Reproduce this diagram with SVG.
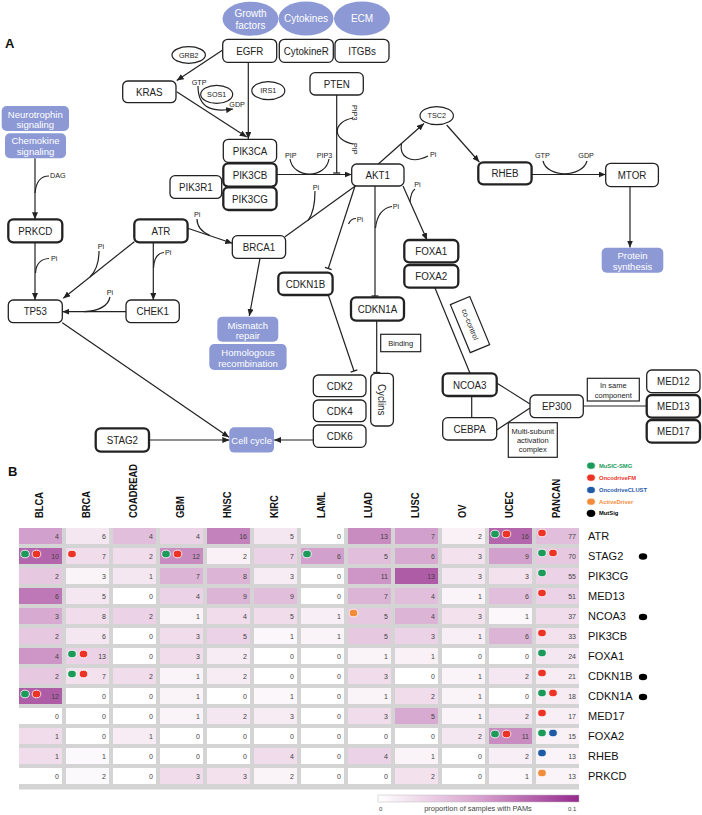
<svg xmlns="http://www.w3.org/2000/svg" width="702" height="815" viewBox="0 0 702 815">
<defs>
<marker id="arr" markerUnits="userSpaceOnUse" viewBox="0 0 7 6" markerWidth="7" markerHeight="6" refX="7" refY="3" orient="auto"><path d="M0,0 L7,3 L0,6 z" fill="#222"/></marker>
<marker id="bar" markerUnits="userSpaceOnUse" viewBox="-2 -5 4 10" markerWidth="4" markerHeight="10" refX="0" refY="0" orient="auto"><path d="M0,-3.5 L0,3.5" stroke="#222" stroke-width="1.3"/></marker>
<linearGradient id="cb" x1="0" y1="0" x2="1" y2="0"><stop offset="0" stop-color="#ffffff"/><stop offset="0.5" stop-color="#d8a3ce"/><stop offset="1" stop-color="#952a8e"/></linearGradient>
</defs>
<style>
text{font-family:"Liberation Sans",Arial,Helvetica,sans-serif}
.nd{fill:#fff;stroke:#222;stroke-width:1.3}
.nt{fill:#fff;stroke:#222;stroke-width:2.3}
.pw{fill:#8c99d5}
.bx{fill:#fff;stroke:#222;stroke-width:1.2}
.lbl{font-size:11.5px;fill:#222;text-anchor:middle}
.wt{font-size:9.5px;fill:#fff;text-anchor:middle}
.we{font-size:10px;fill:#fff;text-anchor:middle}
.sm{font-size:7.2px;fill:#222}
.smc{font-size:7.2px;fill:#222;text-anchor:middle}
.bt{font-size:7.5px;fill:#222;text-anchor:middle}
.ln{fill:none;stroke:#222;stroke-width:1.2}
.ar{marker-end:url(#arr)}
.inh{marker-end:url(#bar)}
.sec{font-size:13px;font-weight:bold;fill:#111}
.hd{font-size:11px;font-weight:bold;fill:#111}
.num{font-size:7px;fill:#444;text-anchor:end}
.rl{font-size:11px;fill:#111}
.lg{font-size:5.8px;font-weight:bold}
.cbt{font-size:6px;fill:#444}
.cbl{font-size:7.4px;fill:#444;text-anchor:middle}
.dg{fill:#1b9a5a;stroke:#fff;stroke-width:0.8}
.dr{fill:#ec3326;stroke:#fff;stroke-width:0.8}
.db{fill:#1f5aa6;stroke:#fff;stroke-width:0.8}
.do{fill:#f28c3a;stroke:#fff;stroke-width:0.8}
.dk{fill:#000}
.k0{fill:#ffffff}.k03{fill:#fcf9fc}.k04{fill:#fbf7fb}.k05{fill:#faf4f8}.k06{fill:#f9f1f6}.k07{fill:#f8eef5}.k08{fill:#f7ecf4}
.k10{fill:#f5e7f1}.k12{fill:#f3e2ee}.k15{fill:#f0dceb}.k20{fill:#ebd2e6}.k25{fill:#e6c8e1}.k30{fill:#e1bedb}.k35{fill:#dcb4d6}
.k40{fill:#d7aad1}.k45{fill:#d2a0cc}.k50{fill:#cd96c6}.k55{fill:#c88cc1}.k60{fill:#c382bc}.k65{fill:#be78b7}.k75{fill:#b466ac}.k80{fill:#af5ca7}
</style>
<rect width="702" height="815" fill="#fff"/>

<text class="sec" x="5" y="48">A</text>
<text class="sec" x="8" y="476">B</text>

<!-- connectors -->
<g id="connectors">
<path class="ln ar" d="M222.7,50 L176.7,80.5"/>
<path class="ln ar" d="M248.3,62.3 L248.3,139"/>
<path class="ln ar" d="M176.7,91.7 L246.7,137"/>
<path class="ln ar" d="M198,86 C198,110 215,112 233,109"/>
<path class="ln ar" d="M276.7,174.5 L351.7,174.5"/>
<path class="ln" d="M290,159 C293,179 326,179 329,159"/>
<path class="ln inh" d="M336.7,95 L336.7,173"/>
<path class="ln" d="M353,118 C332,122 332,140 353,144"/>
<path class="ln ar" d="M378.3,164 L424,123.5"/>
<path class="ln" d="M401.5,143.5 C399,156 410,165 428,156"/>
<path class="ln ar" d="M446.7,125 L479.3,162"/>
<path class="ln ar" d="M531.7,174.5 L605.7,174.5"/>
<path class="ln" d="M543,161 C547,178 582,178 587,161"/>
<path class="ln ar" d="M630,186.7 L630,247.5"/>
<path class="ln ar" d="M35,158.3 L35,219.3"/>
<path class="ln" d="M49,176 C40,176 36,182 35,193"/>
<path class="ln ar" d="M35,242.3 L35,300"/>
<path class="ln" d="M49,258.5 C40,259 36,265 35.5,273"/>
<path class="ln ar" d="M134.3,241.7 L63.3,298.3"/>
<path class="ln" d="M99,251 C99,262 97,270 90,277"/>
<path class="ln ar" d="M153.3,242.3 L153.3,300"/>
<path class="ln" d="M164,252.5 C157,253 154,258 153.5,268"/>
<path class="ln ar" d="M126,311.7 L62.3,311.7"/>
<path class="ln" d="M110,297 C108,306 98,311 84,311.7"/>
<path class="ln ar" d="M187.7,228.3 L232.3,243.3"/>
<path class="ln" d="M197,219 C197,227 202,232 210,235.5"/>
<path class="ln ar" d="M260,258.3 L249.3,316"/>
<path class="ln" d="M356,185.5 L285,236.7"/>
<path class="ln" d="M315,191 C315,204 313,214 308,220.5"/>
<path class="ln inh" d="M355,186 L328.3,268.5"/>
<path class="ln" d="M356,218.5 C352,218.5 350,220.5 348.5,224"/>
<path class="ln inh" d="M375,186 L375,296"/>
<path class="ln" d="M392,206.5 C382,208 377,215 375.5,228"/>
<path class="ln ar" d="M403,186 L427,240"/>
<path class="ln" d="M415,189 C412,191 410.5,196 410,202"/>
<path class="ln inh" d="M328.3,295 L354,371"/>
<path class="ln inh" d="M376.7,320.7 L376.7,372.5"/>
<path class="ln ar" d="M62.3,322.7 L229,437.3"/>
<path class="ln ar" d="M149,440 L229.3,440"/>
<path class="ln ar" d="M313.3,440 L274,440"/>
<path class="ln" d="M435,288 L470,373.3"/>
<path class="ln" d="M471.7,396 L471.7,417.7"/>
<path class="ln" d="M496.7,383 L530,404"/>
<path class="ln" d="M496.7,430 L530,408"/>
<path class="ln" d="M583.3,406 L646.7,406"/>
</g>

<!-- small connector labels -->
<g id="conn-labels">
<text class="sm" x="191.7" y="84.5">GTP</text>
<text class="sm" x="229.3" y="106.7">GDP</text>
<text class="sm" x="285" y="157.7">PIP</text>
<text class="sm" x="316.7" y="157.7">PIP3</text>
<text class="sm" transform="translate(351.7,105) rotate(90)">PIP3</text>
<text class="sm" transform="translate(351.7,143) rotate(90)">PIP</text>
<text class="sm" x="535" y="158.3">GTP</text>
<text class="sm" x="578.3" y="158.3">GDP</text>
<text class="sm" x="50" y="178.3">DAG</text>
<text class="sm" x="51" y="261">Pi</text>
<text class="sm" x="97.7" y="249">Pi</text>
<text class="sm" x="165" y="255">Pi</text>
<text class="sm" x="106.7" y="295">Pi</text>
<text class="sm" x="194" y="217">Pi</text>
<text class="sm" x="312.7" y="189.5">Pi</text>
<text class="sm" x="430" y="157">Pi</text>
<text class="sm" x="414.3" y="187">Pi</text>
<text class="sm" x="392.7" y="209">Pi</text>
<text class="sm" x="356.7" y="221.5">Pi</text>
</g>

<!-- ligand ellipses -->
<g id="growth-factors"><ellipse class="pw" cx="250.5" cy="18.7" rx="28" ry="17"/><text class="we" x="250.5" y="16.5">Growth</text><text class="we" x="250.5" y="28.5">factors</text></g>
<g id="cytokines"><ellipse class="pw" cx="306" cy="18.5" rx="27.5" ry="17"/><text class="we" x="306" y="22">Cytokines</text></g>
<g id="ecm"><ellipse class="pw" cx="362" cy="18.5" rx="28" ry="17"/><text class="we" x="362" y="22">ECM</text></g>

<!-- small ellipses -->
<g id="grb2"><ellipse class="bx" cx="188.7" cy="55" rx="16.7" ry="8.3"/><text class="smc" x="188.7" y="57.5">GRB2</text></g>
<g id="sos1"><ellipse class="bx" cx="216.7" cy="94.3" rx="16" ry="9"/><text class="smc" x="216.7" y="97">SOS1</text></g>
<g id="irs1"><ellipse class="bx" cx="268.3" cy="90.7" rx="16.5" ry="9"/><text class="smc" x="268.3" y="93.3">IRS1</text></g>
<g id="tsc2"><ellipse class="bx" cx="436.7" cy="115.7" rx="16.7" ry="9"/><text class="smc" x="436.7" y="118.3">TSC2</text></g>

<!-- gene nodes -->
<g id="EGFR"><rect class="nd" x="222.7" y="39.3" width="54" height="23" rx="5"/><text class="lbl" transform="translate(249.7,54.8) scale(.85,1)">EGFR</text></g>
<g id="CytokineR"><rect class="nd" x="279.3" y="39.3" width="54" height="23" rx="5"/><text class="lbl" transform="translate(306.3,54.8) scale(.85,1)">CytokineR</text></g>
<g id="ITGBs"><rect class="nd" x="335" y="39.3" width="54" height="23" rx="5"/><text class="lbl" transform="translate(362,54.8) scale(.85,1)">ITGBs</text></g>
<g id="KRAS"><rect class="nd" x="122.7" y="81" width="53.3" height="21.7" rx="5"/><text class="lbl" transform="translate(149.3,95.8) scale(.85,1)">KRAS</text></g>
<g id="PTEN"><rect class="nd" x="310" y="72.7" width="53.3" height="22.3" rx="5"/><text class="lbl" transform="translate(336.7,87.8) scale(.85,1)">PTEN</text></g>
<g id="PIK3CA"><rect class="nd" x="223.3" y="139.3" width="53.3" height="23" rx="5"/><text class="lbl" transform="translate(250,154.8) scale(.85,1)">PIK3CA</text></g>
<g id="PIK3CB"><rect class="nt" x="223.3" y="163.3" width="53.3" height="23.3" rx="5"/><text class="lbl" transform="translate(250,179) scale(.85,1)">PIK3CB</text></g>
<g id="PIK3CG"><rect class="nt" x="223.3" y="187.3" width="53.3" height="22.7" rx="5"/><text class="lbl" transform="translate(250,202.7) scale(.85,1)">PIK3CG</text></g>
<g id="PIK3R1"><rect class="nd" x="170" y="175.7" width="51.7" height="22.7" rx="5"/><text class="lbl" transform="translate(195.8,191) scale(.85,1)">PIK3R1</text></g>
<g id="AKT1"><rect class="nd" x="351.7" y="164" width="52.3" height="22" rx="5"/><text class="lbl" transform="translate(377.8,179) scale(.85,1)">AKT1</text></g>
<g id="RHEB"><rect class="nt" x="478.3" y="162.3" width="53.3" height="22" rx="5"/><text class="lbl" transform="translate(505,177.3) scale(.85,1)">RHEB</text></g>
<g id="MTOR"><rect class="nd" x="605.7" y="163.3" width="52.7" height="23.3" rx="5"/><text class="lbl" transform="translate(632,179) scale(.85,1)">MTOR</text></g>
<g id="PRKCD"><rect class="nt" x="8.3" y="219.3" width="54" height="23" rx="5"/><text class="lbl" transform="translate(35.3,234.8) scale(.85,1)">PRKCD</text></g>
<g id="ATR"><rect class="nt" x="134.3" y="219.3" width="53.3" height="23" rx="5"/><text class="lbl" transform="translate(161,234.8) scale(.85,1)">ATR</text></g>
<g id="BRCA1"><rect class="nd" x="232.3" y="235.7" width="53.3" height="22.7" rx="5"/><text class="lbl" transform="translate(259,251) scale(.85,1)">BRCA1</text></g>
<g id="TP53"><rect class="nd" x="8.3" y="300" width="54" height="22.7" rx="5"/><text class="lbl" transform="translate(35.3,315.3) scale(.85,1)">TP53</text></g>
<g id="CHEK1"><rect class="nd" x="126" y="300" width="53.3" height="22.7" rx="5"/><text class="lbl" transform="translate(152.7,315.3) scale(.85,1)">CHEK1</text></g>
<g id="CDKN1B"><rect class="nt" x="278.3" y="272.7" width="54.3" height="22.3" rx="5"/><text class="lbl" transform="translate(305.5,287.8) scale(.85,1)">CDKN1B</text></g>
<g id="CDKN1A"><rect class="nt" x="351" y="297.3" width="53" height="23.3" rx="5"/><text class="lbl" transform="translate(377.5,313) scale(.85,1)">CDKN1A</text></g>
<g id="FOXA1"><rect class="nt" x="404.3" y="240" width="54" height="22.3" rx="5"/><text class="lbl" transform="translate(431.3,255.2) scale(.85,1)">FOXA1</text></g>
<g id="FOXA2"><rect class="nt" x="404.3" y="265" width="54" height="22.7" rx="5"/><text class="lbl" transform="translate(431.3,280.3) scale(.85,1)">FOXA2</text></g>
<g id="CDK2"><rect class="nd" x="313.3" y="375" width="52.7" height="21.7" rx="5"/><text class="lbl" transform="translate(339.7,389.8) scale(.85,1)">CDK2</text></g>
<g id="CDK4"><rect class="nd" x="313.3" y="400" width="52.7" height="21.7" rx="5"/><text class="lbl" transform="translate(339.7,414.8) scale(.85,1)">CDK4</text></g>
<g id="CDK6"><rect class="nd" x="313.3" y="425" width="52.7" height="22.3" rx="5"/><text class="lbl" transform="translate(339.7,440.2) scale(.85,1)">CDK6</text></g>
<g id="Cyclins"><rect class="nd" x="370.7" y="373.3" width="22.7" height="52.7" rx="5"/><text class="lbl" transform="translate(378,399.7) rotate(90) scale(.85,1)">Cyclins</text></g>
<g id="NCOA3"><rect class="nt" x="442.7" y="373.3" width="54" height="22.7" rx="5"/><text class="lbl" transform="translate(469.7,388.7) scale(.85,1)">NCOA3</text></g>
<g id="CEBPA"><rect class="nd" x="442.7" y="417.7" width="54" height="22.3" rx="5"/><text class="lbl" transform="translate(469.7,432.8) scale(.85,1)">CEBPA</text></g>
<g id="EP300"><rect class="nd" x="530" y="395" width="53.3" height="22.7" rx="5"/><text class="lbl" transform="translate(556.7,410.3) scale(.85,1)">EP300</text></g>
<g id="MED12"><rect class="nd" x="646.7" y="370" width="53.3" height="22.7" rx="5"/><text class="lbl" transform="translate(673.3,385.3) scale(.85,1)">MED12</text></g>
<g id="MED13"><rect class="nt" x="646.7" y="395" width="53.3" height="22.7" rx="5"/><text class="lbl" transform="translate(673.3,410.3) scale(.85,1)">MED13</text></g>
<g id="MED17"><rect class="nt" x="646.7" y="420" width="53.3" height="22.7" rx="5"/><text class="lbl" transform="translate(673.3,435.3) scale(.85,1)">MED17</text></g>
<g id="STAG2"><rect class="nt" x="95.7" y="428.3" width="53.3" height="23.3" rx="5"/><text class="lbl" transform="translate(122.3,444) scale(.85,1)">STAG2</text></g>

<!-- process boxes -->
<g id="neurotrophin"><rect class="pw" x="1.7" y="106" width="67.3" height="25" rx="5"/><text class="wt" x="35.3" y="117.5">Neurotrophin</text><text class="wt" x="35.3" y="128">signaling</text></g>
<g id="chemokine"><rect class="pw" x="5" y="133.3" width="61" height="25" rx="5"/><text class="wt" x="35.5" y="144">Chemokine</text><text class="wt" x="35.5" y="155">signaling</text></g>
<g id="mismatch"><rect class="pw" x="217.3" y="316.7" width="61" height="25" rx="5"/><text class="wt" x="247.8" y="328.5">Mismatch</text><text class="wt" x="247.8" y="338.5">repair</text></g>
<g id="homologous"><rect class="pw" x="209.3" y="344" width="77.3" height="26" rx="5"/><text class="wt" x="248" y="356">Homologous</text><text class="wt" x="248" y="366.8">recombination</text></g>
<g id="cellcycle"><rect class="pw" x="229.3" y="427.3" width="44.7" height="25.3" rx="5"/><text class="wt" x="251.7" y="443.5">Cell cycle</text></g>
<g id="protein"><rect class="pw" x="601.7" y="247.7" width="61.6" height="25" rx="5"/><text class="wt" x="632.5" y="259">Protein</text><text class="wt" x="632.5" y="270">synthesis</text></g>

<!-- annotation boxes -->
<g id="binding"><rect class="bx" x="380.7" y="334.3" width="40" height="17.4"/><text class="bt" x="400.7" y="345.7">Binding</text></g>
<g id="cocontrol" transform="translate(470,324.6) rotate(67.5)"><rect class="bx" x="-26" y="-10.5" width="52" height="21"/><text class="bt" x="0" y="2.5">co-control</text></g>
<g id="samecomp"><rect class="bx" x="587.3" y="378.3" width="52" height="22.7"/><text class="bt" x="613.3" y="388.3">In same</text><text class="bt" x="613.3" y="397.5">component</text></g>
<g id="multisub"><rect class="bx" x="508.3" y="422.7" width="49" height="34.6"/><text class="bt" x="532.8" y="433.7">Multi-subunit</text><text class="bt" x="532.8" y="443">activation</text><text class="bt" x="532.8" y="452">complex</text></g>

<!-- legend -->
<g id="legend">
<ellipse class="dg" cx="591" cy="465.7" rx="4.3" ry="3.6"/><text class="lg" x="599" y="467.8" fill="#1b9a5a">MuSIC-SMG</text>
<ellipse class="dr" cx="591" cy="477.7" rx="4.3" ry="3.6"/><text class="lg" x="599" y="479.8" fill="#ec3326">OncodriveFM</text>
<ellipse class="db" cx="591" cy="490" rx="4.3" ry="3.6"/><text class="lg" x="599" y="492.1" fill="#1f5aa6">OncodriveCLUST</text>
<ellipse class="do" cx="591" cy="501.7" rx="4.3" ry="3.6"/><text class="lg" x="599" y="503.8" fill="#f28c3a">ActiveDriver</text>
<ellipse class="dk" cx="591" cy="513.3" rx="4.3" ry="3.6"/><text class="lg" x="599" y="515.4" fill="#000">MutSig</text>
</g>

<!-- heatmap headers -->
<g id="headers">
<text class="hd" transform="translate(43,518) rotate(-90) scale(.85,1)">BLCA</text>
<text class="hd" transform="translate(90,518) rotate(-90) scale(.85,1)">BRCA</text>
<text class="hd" transform="translate(137,518) rotate(-90) scale(.85,1)">COADREAD</text>
<text class="hd" transform="translate(184,518) rotate(-90) scale(.85,1)">GBM</text>
<text class="hd" transform="translate(231,518) rotate(-90) scale(.85,1)">HNSC</text>
<text class="hd" transform="translate(278,518) rotate(-90) scale(.85,1)">KIRC</text>
<text class="hd" transform="translate(325,518) rotate(-90) scale(.85,1)">LAML</text>
<text class="hd" transform="translate(372,518) rotate(-90) scale(.85,1)">LUAD</text>
<text class="hd" transform="translate(419,518) rotate(-90) scale(.85,1)">LUSC</text>
<text class="hd" transform="translate(466,518) rotate(-90) scale(.85,1)">OV</text>
<text class="hd" transform="translate(513,518) rotate(-90) scale(.85,1)">UCEC</text>
<text class="hd" transform="translate(560,518) rotate(-90) scale(.85,1)">PANCAN</text>
</g>

<g id="heatmap">
<rect x="19" y="528" width="560" height="261.5" fill="#d4d4d4"/>
<!-- ATR -->
<rect class="k45" x="19" y="528" width="43" height="16"/><text class="num" x="59" y="538.5">4</text>
<rect class="k10" x="66" y="528" width="43" height="16"/><text class="num" x="106" y="538.5">6</text>
<rect class="k30" x="113" y="528" width="43" height="16"/><text class="num" x="153" y="538.5">4</text>
<rect class="k20" x="160" y="528" width="43" height="16"/><text class="num" x="200" y="538.5">4</text>
<rect class="k60" x="207" y="528" width="43" height="16"/><text class="num" x="247" y="538.5">16</text>
<rect class="k10" x="254" y="528" width="43" height="16"/><text class="num" x="294" y="538.5">5</text>
<rect class="k0" x="301" y="528" width="43" height="16"/><text class="num" x="341" y="538.5">0</text>
<rect class="k55" x="348" y="528" width="43" height="16"/><text class="num" x="388" y="538.5">13</text>
<rect class="k45" x="395" y="528" width="43" height="16"/><text class="num" x="435" y="538.5">7</text>
<rect class="k06" x="442" y="528" width="43" height="16"/><text class="num" x="482" y="538.5">2</text>
<rect class="k75" x="489" y="528" width="43" height="16"/><text class="num" x="529" y="538.5">16</text>
<rect class="k30" x="536" y="528" width="43" height="16"/><text class="num" x="576" y="538.5">77</text>
<!-- STAG2 -->
<rect class="k75" x="19" y="548" width="43" height="16"/><text class="num" x="59" y="558.5">10</text>
<rect class="k15" x="66" y="548" width="43" height="16"/><text class="num" x="106" y="558.5">7</text>
<rect class="k15" x="113" y="548" width="43" height="16"/><text class="num" x="153" y="558.5">2</text>
<rect class="k55" x="160" y="548" width="43" height="16"/><text class="num" x="200" y="558.5">12</text>
<rect class="k06" x="207" y="548" width="43" height="16"/><text class="num" x="247" y="558.5">2</text>
<rect class="k20" x="254" y="548" width="43" height="16"/><text class="num" x="294" y="558.5">7</text>
<rect class="k45" x="301" y="548" width="43" height="16"/><text class="num" x="341" y="558.5">6</text>
<rect class="k30" x="348" y="548" width="43" height="16"/><text class="num" x="388" y="558.5">5</text>
<rect class="k40" x="395" y="548" width="43" height="16"/><text class="num" x="435" y="558.5">6</text>
<rect class="k12" x="442" y="548" width="43" height="16"/><text class="num" x="482" y="558.5">3</text>
<rect class="k45" x="489" y="548" width="43" height="16"/><text class="num" x="529" y="558.5">9</text>
<rect class="k25" x="536" y="548" width="43" height="16"/><text class="num" x="576" y="558.5">70</text>
<!-- PIK3CG -->
<rect class="k25" x="19" y="568" width="43" height="16"/><text class="num" x="59" y="578.5">2</text>
<rect class="k05" x="66" y="568" width="43" height="16"/><text class="num" x="106" y="578.5">3</text>
<rect class="k10" x="113" y="568" width="43" height="16"/><text class="num" x="153" y="578.5">1</text>
<rect class="k35" x="160" y="568" width="43" height="16"/><text class="num" x="200" y="578.5">7</text>
<rect class="k35" x="207" y="568" width="43" height="16"/><text class="num" x="247" y="578.5">8</text>
<rect class="k08" x="254" y="568" width="43" height="16"/><text class="num" x="294" y="578.5">3</text>
<rect class="k0" x="301" y="568" width="43" height="16"/><text class="num" x="341" y="578.5">0</text>
<rect class="k50" x="348" y="568" width="43" height="16"/><text class="num" x="388" y="578.5">11</text>
<rect class="k80" x="395" y="568" width="43" height="16"/><text class="num" x="435" y="578.5">13</text>
<rect class="k10" x="442" y="568" width="43" height="16"/><text class="num" x="482" y="578.5">3</text>
<rect class="k12" x="489" y="568" width="43" height="16"/><text class="num" x="529" y="578.5">3</text>
<rect class="k20" x="536" y="568" width="43" height="16"/><text class="num" x="576" y="578.5">55</text>
<!-- MED13 -->
<rect class="k65" x="19" y="588" width="43" height="16"/><text class="num" x="59" y="598.5">6</text>
<rect class="k10" x="66" y="588" width="43" height="16"/><text class="num" x="106" y="598.5">5</text>
<rect class="k0" x="113" y="588" width="43" height="16"/><text class="num" x="153" y="598.5">0</text>
<rect class="k20" x="160" y="588" width="43" height="16"/><text class="num" x="200" y="598.5">4</text>
<rect class="k35" x="207" y="588" width="43" height="16"/><text class="num" x="247" y="598.5">9</text>
<rect class="k30" x="254" y="588" width="43" height="16"/><text class="num" x="294" y="598.5">9</text>
<rect class="k0" x="301" y="588" width="43" height="16"/><text class="num" x="341" y="598.5">0</text>
<rect class="k35" x="348" y="588" width="43" height="16"/><text class="num" x="388" y="598.5">7</text>
<rect class="k30" x="395" y="588" width="43" height="16"/><text class="num" x="435" y="598.5">4</text>
<rect class="k05" x="442" y="588" width="43" height="16"/><text class="num" x="482" y="598.5">1</text>
<rect class="k30" x="489" y="588" width="43" height="16"/><text class="num" x="529" y="598.5">6</text>
<rect class="k20" x="536" y="588" width="43" height="16"/><text class="num" x="576" y="598.5">51</text>
<!-- NCOA3 -->
<rect class="k40" x="19" y="608" width="43" height="16"/><text class="num" x="59" y="618.5">3</text>
<rect class="k15" x="66" y="608" width="43" height="16"/><text class="num" x="106" y="618.5">8</text>
<rect class="k20" x="113" y="608" width="43" height="16"/><text class="num" x="153" y="618.5">2</text>
<rect class="k05" x="160" y="608" width="43" height="16"/><text class="num" x="200" y="618.5">1</text>
<rect class="k15" x="207" y="608" width="43" height="16"/><text class="num" x="247" y="618.5">4</text>
<rect class="k15" x="254" y="608" width="43" height="16"/><text class="num" x="294" y="618.5">5</text>
<rect class="k07" x="301" y="608" width="43" height="16"/><text class="num" x="341" y="618.5">1</text>
<rect class="k25" x="348" y="608" width="43" height="16"/><text class="num" x="388" y="618.5">5</text>
<rect class="k35" x="395" y="608" width="43" height="16"/><text class="num" x="435" y="618.5">4</text>
<rect class="k12" x="442" y="608" width="43" height="16"/><text class="num" x="482" y="618.5">3</text>
<rect class="k04" x="489" y="608" width="43" height="16"/><text class="num" x="529" y="618.5">1</text>
<rect class="k15" x="536" y="608" width="43" height="16"/><text class="num" x="576" y="618.5">37</text>
<!-- PIK3CB -->
<rect class="k25" x="19" y="628" width="43" height="16"/><text class="num" x="59" y="638.5">2</text>
<rect class="k10" x="66" y="628" width="43" height="16"/><text class="num" x="106" y="638.5">6</text>
<rect class="k0" x="113" y="628" width="43" height="16"/><text class="num" x="153" y="638.5">0</text>
<rect class="k15" x="160" y="628" width="43" height="16"/><text class="num" x="200" y="638.5">3</text>
<rect class="k20" x="207" y="628" width="43" height="16"/><text class="num" x="247" y="638.5">5</text>
<rect class="k04" x="254" y="628" width="43" height="16"/><text class="num" x="294" y="638.5">1</text>
<rect class="k05" x="301" y="628" width="43" height="16"/><text class="num" x="341" y="638.5">1</text>
<rect class="k25" x="348" y="628" width="43" height="16"/><text class="num" x="388" y="638.5">5</text>
<rect class="k20" x="395" y="628" width="43" height="16"/><text class="num" x="435" y="638.5">3</text>
<rect class="k07" x="442" y="628" width="43" height="16"/><text class="num" x="482" y="638.5">1</text>
<rect class="k35" x="489" y="628" width="43" height="16"/><text class="num" x="529" y="638.5">6</text>
<rect class="k12" x="536" y="628" width="43" height="16"/><text class="num" x="576" y="638.5">33</text>
<!-- FOXA1 -->
<rect class="k50" x="19" y="648" width="43" height="16"/><text class="num" x="59" y="658.5">4</text>
<rect class="k20" x="66" y="648" width="43" height="16"/><text class="num" x="106" y="658.5">13</text>
<rect class="k0" x="113" y="648" width="43" height="16"/><text class="num" x="153" y="658.5">0</text>
<rect class="k15" x="160" y="648" width="43" height="16"/><text class="num" x="200" y="658.5">3</text>
<rect class="k08" x="207" y="648" width="43" height="16"/><text class="num" x="247" y="658.5">2</text>
<rect class="k0" x="254" y="648" width="43" height="16"/><text class="num" x="294" y="658.5">0</text>
<rect class="k0" x="301" y="648" width="43" height="16"/><text class="num" x="341" y="658.5">0</text>
<rect class="k05" x="348" y="648" width="43" height="16"/><text class="num" x="388" y="658.5">1</text>
<rect class="k06" x="395" y="648" width="43" height="16"/><text class="num" x="435" y="658.5">1</text>
<rect class="k0" x="442" y="648" width="43" height="16"/><text class="num" x="482" y="658.5">0</text>
<rect class="k0" x="489" y="648" width="43" height="16"/><text class="num" x="529" y="658.5">0</text>
<rect class="k10" x="536" y="648" width="43" height="16"/><text class="num" x="576" y="658.5">24</text>
<!-- CDKN1B -->
<rect class="k25" x="19" y="668" width="43" height="16"/><text class="num" x="59" y="678.5">2</text>
<rect class="k12" x="66" y="668" width="43" height="16"/><text class="num" x="106" y="678.5">7</text>
<rect class="k15" x="113" y="668" width="43" height="16"/><text class="num" x="153" y="678.5">2</text>
<rect class="k05" x="160" y="668" width="43" height="16"/><text class="num" x="200" y="678.5">1</text>
<rect class="k08" x="207" y="668" width="43" height="16"/><text class="num" x="247" y="678.5">2</text>
<rect class="k0" x="254" y="668" width="43" height="16"/><text class="num" x="294" y="678.5">0</text>
<rect class="k0" x="301" y="668" width="43" height="16"/><text class="num" x="341" y="678.5">0</text>
<rect class="k15" x="348" y="668" width="43" height="16"/><text class="num" x="388" y="678.5">3</text>
<rect class="k0" x="395" y="668" width="43" height="16"/><text class="num" x="435" y="678.5">0</text>
<rect class="k05" x="442" y="668" width="43" height="16"/><text class="num" x="482" y="678.5">1</text>
<rect class="k10" x="489" y="668" width="43" height="16"/><text class="num" x="529" y="678.5">2</text>
<rect class="k08" x="536" y="668" width="43" height="16"/><text class="num" x="576" y="678.5">21</text>
<!-- CDKN1A -->
<rect class="k80" x="19" y="688" width="43" height="16"/><text class="num" x="59" y="698.5">12</text>
<rect class="k0" x="66" y="688" width="43" height="16"/><text class="num" x="106" y="698.5">0</text>
<rect class="k0" x="113" y="688" width="43" height="16"/><text class="num" x="153" y="698.5">0</text>
<rect class="k05" x="160" y="688" width="43" height="16"/><text class="num" x="200" y="698.5">1</text>
<rect class="k0" x="207" y="688" width="43" height="16"/><text class="num" x="247" y="698.5">0</text>
<rect class="k04" x="254" y="688" width="43" height="16"/><text class="num" x="294" y="698.5">1</text>
<rect class="k0" x="301" y="688" width="43" height="16"/><text class="num" x="341" y="698.5">0</text>
<rect class="k05" x="348" y="688" width="43" height="16"/><text class="num" x="388" y="698.5">1</text>
<rect class="k15" x="395" y="688" width="43" height="16"/><text class="num" x="435" y="698.5">2</text>
<rect class="k05" x="442" y="688" width="43" height="16"/><text class="num" x="482" y="698.5">1</text>
<rect class="k0" x="489" y="688" width="43" height="16"/><text class="num" x="529" y="698.5">0</text>
<rect class="k08" x="536" y="688" width="43" height="16"/><text class="num" x="576" y="698.5">18</text>
<!-- MED17 -->
<rect class="k0" x="19" y="708" width="43" height="16"/><text class="num" x="59" y="718.5">0</text>
<rect class="k0" x="66" y="708" width="43" height="16"/><text class="num" x="106" y="718.5">0</text>
<rect class="k0" x="113" y="708" width="43" height="16"/><text class="num" x="153" y="718.5">0</text>
<rect class="k05" x="160" y="708" width="43" height="16"/><text class="num" x="200" y="718.5">1</text>
<rect class="k10" x="207" y="708" width="43" height="16"/><text class="num" x="247" y="718.5">2</text>
<rect class="k08" x="254" y="708" width="43" height="16"/><text class="num" x="294" y="718.5">3</text>
<rect class="k0" x="301" y="708" width="43" height="16"/><text class="num" x="341" y="718.5">0</text>
<rect class="k15" x="348" y="708" width="43" height="16"/><text class="num" x="388" y="718.5">3</text>
<rect class="k40" x="395" y="708" width="43" height="16"/><text class="num" x="435" y="718.5">5</text>
<rect class="k05" x="442" y="708" width="43" height="16"/><text class="num" x="482" y="718.5">1</text>
<rect class="k10" x="489" y="708" width="43" height="16"/><text class="num" x="529" y="718.5">2</text>
<rect class="k07" x="536" y="708" width="43" height="16"/><text class="num" x="576" y="718.5">17</text>
<!-- FOXA2 -->
<rect class="k15" x="19" y="728" width="43" height="16"/><text class="num" x="59" y="738.5">1</text>
<rect class="k0" x="66" y="728" width="43" height="16"/><text class="num" x="106" y="738.5">0</text>
<rect class="k08" x="113" y="728" width="43" height="16"/><text class="num" x="153" y="738.5">1</text>
<rect class="k0" x="160" y="728" width="43" height="16"/><text class="num" x="200" y="738.5">0</text>
<rect class="k0" x="207" y="728" width="43" height="16"/><text class="num" x="247" y="738.5">0</text>
<rect class="k0" x="254" y="728" width="43" height="16"/><text class="num" x="294" y="738.5">0</text>
<rect class="k0" x="301" y="728" width="43" height="16"/><text class="num" x="341" y="738.5">0</text>
<rect class="k0" x="348" y="728" width="43" height="16"/><text class="num" x="388" y="738.5">0</text>
<rect class="k0" x="395" y="728" width="43" height="16"/><text class="num" x="435" y="738.5">0</text>
<rect class="k10" x="442" y="728" width="43" height="16"/><text class="num" x="482" y="738.5">2</text>
<rect class="k55" x="489" y="728" width="43" height="16"/><text class="num" x="529" y="738.5">11</text>
<rect class="k06" x="536" y="728" width="43" height="16"/><text class="num" x="576" y="738.5">15</text>
<!-- RHEB -->
<rect class="k15" x="19" y="748" width="43" height="16"/><text class="num" x="59" y="758.5">1</text>
<rect class="k03" x="66" y="748" width="43" height="16"/><text class="num" x="106" y="758.5">1</text>
<rect class="k0" x="113" y="748" width="43" height="16"/><text class="num" x="153" y="758.5">0</text>
<rect class="k0" x="160" y="748" width="43" height="16"/><text class="num" x="200" y="758.5">0</text>
<rect class="k0" x="207" y="748" width="43" height="16"/><text class="num" x="247" y="758.5">0</text>
<rect class="k15" x="254" y="748" width="43" height="16"/><text class="num" x="294" y="758.5">4</text>
<rect class="k0" x="301" y="748" width="43" height="16"/><text class="num" x="341" y="758.5">0</text>
<rect class="k20" x="348" y="748" width="43" height="16"/><text class="num" x="388" y="758.5">4</text>
<rect class="k05" x="395" y="748" width="43" height="16"/><text class="num" x="435" y="758.5">1</text>
<rect class="k0" x="442" y="748" width="43" height="16"/><text class="num" x="482" y="758.5">0</text>
<rect class="k07" x="489" y="748" width="43" height="16"/><text class="num" x="529" y="758.5">2</text>
<rect class="k05" x="536" y="748" width="43" height="16"/><text class="num" x="576" y="758.5">13</text>
<!-- PRKCD -->
<rect class="k0" x="19" y="768" width="43" height="16"/><text class="num" x="59" y="778.5">0</text>
<rect class="k03" x="66" y="768" width="43" height="16"/><text class="num" x="106" y="778.5">2</text>
<rect class="k0" x="113" y="768" width="43" height="16"/><text class="num" x="153" y="778.5">0</text>
<rect class="k15" x="160" y="768" width="43" height="16"/><text class="num" x="200" y="778.5">3</text>
<rect class="k12" x="207" y="768" width="43" height="16"/><text class="num" x="247" y="778.5">3</text>
<rect class="k05" x="254" y="768" width="43" height="16"/><text class="num" x="294" y="778.5">2</text>
<rect class="k0" x="301" y="768" width="43" height="16"/><text class="num" x="341" y="778.5">0</text>
<rect class="k0" x="348" y="768" width="43" height="16"/><text class="num" x="388" y="778.5">0</text>
<rect class="k12" x="395" y="768" width="43" height="16"/><text class="num" x="435" y="778.5">2</text>
<rect class="k0" x="442" y="768" width="43" height="16"/><text class="num" x="482" y="778.5">0</text>
<rect class="k04" x="489" y="768" width="43" height="16"/><text class="num" x="529" y="778.5">1</text>
<rect class="k05" x="536" y="768" width="43" height="16"/><text class="num" x="576" y="778.5">13</text>
</g>

<g id="heatmap-dots">
<ellipse class="dg" cx="495" cy="534" rx="4.3" ry="3.8"/><ellipse class="dr" cx="506.5" cy="534" rx="4.3" ry="3.8"/>
<ellipse class="dr" cx="542" cy="533" rx="4.3" ry="3.8"/>
<ellipse class="dg" cx="25" cy="554" rx="4.3" ry="3.8"/><ellipse class="dr" cx="36.5" cy="554" rx="4.3" ry="3.8"/>
<ellipse class="dr" cx="72" cy="554" rx="4.3" ry="3.8"/>
<ellipse class="dg" cx="166" cy="554" rx="4.3" ry="3.8"/><ellipse class="dr" cx="177.5" cy="554" rx="4.3" ry="3.8"/>
<ellipse class="dg" cx="307" cy="554" rx="4.3" ry="3.8"/>
<ellipse class="dg" cx="542" cy="553" rx="4.3" ry="3.8"/><ellipse class="dr" cx="553" cy="553" rx="4.3" ry="3.8"/>
<ellipse class="dg" cx="542" cy="573" rx="4.3" ry="3.8"/>
<ellipse class="dr" cx="542" cy="593" rx="4.3" ry="3.8"/>
<ellipse class="do" cx="353.5" cy="613" rx="4.3" ry="3.8"/>
<ellipse class="dr" cx="542" cy="633" rx="4.3" ry="3.8"/>
<ellipse class="dg" cx="72" cy="654" rx="4.3" ry="3.8"/><ellipse class="dr" cx="83.5" cy="654" rx="4.3" ry="3.8"/>
<ellipse class="dg" cx="542" cy="653" rx="4.3" ry="3.8"/>
<ellipse class="dg" cx="72" cy="674" rx="4.3" ry="3.8"/><ellipse class="dr" cx="83.5" cy="674" rx="4.3" ry="3.8"/>
<ellipse class="dr" cx="542" cy="673" rx="4.3" ry="3.8"/>
<ellipse class="dg" cx="25" cy="694" rx="4.3" ry="3.8"/><ellipse class="dr" cx="36.5" cy="694" rx="4.3" ry="3.8"/>
<ellipse class="dg" cx="542" cy="693" rx="4.3" ry="3.8"/><ellipse class="dr" cx="553" cy="693" rx="4.3" ry="3.8"/>
<ellipse class="dr" cx="542" cy="713" rx="4.3" ry="3.8"/>
<ellipse class="dg" cx="495" cy="734" rx="4.3" ry="3.8"/><ellipse class="dr" cx="506.5" cy="734" rx="4.3" ry="3.8"/>
<ellipse class="dg" cx="542" cy="733" rx="4.3" ry="3.8"/><ellipse class="db" cx="553" cy="733" rx="4.3" ry="3.8"/>
<ellipse class="db" cx="542" cy="753" rx="4.3" ry="3.8"/>
<ellipse class="do" cx="542" cy="773" rx="4.3" ry="3.8"/>
</g>

<g id="row-labels">
<text class="rl" x="588" y="540">ATR</text>
<text class="rl" x="588" y="560">STAG2</text>
<text class="rl" x="588" y="580">PIK3CG</text>
<text class="rl" x="588" y="600">MED13</text>
<text class="rl" x="588" y="620">NCOA3</text>
<text class="rl" x="588" y="640">PIK3CB</text>
<text class="rl" x="588" y="660">FOXA1</text>
<text class="rl" x="588" y="680">CDKN1B</text>
<text class="rl" x="588" y="700">CDKN1A</text>
<text class="rl" x="588" y="720">MED17</text>
<text class="rl" x="588" y="740">FOXA2</text>
<text class="rl" x="588" y="760">RHEB</text>
<text class="rl" x="588" y="780">PRKCD</text>
<ellipse class="dk" cx="643" cy="556.5" rx="4.2" ry="3.3"/>
<ellipse class="dk" cx="643" cy="617" rx="4.2" ry="3.3"/>
<ellipse class="dk" cx="643" cy="677" rx="4.2" ry="3.3"/>
<ellipse class="dk" cx="643" cy="697" rx="4.2" ry="3.3"/>
</g>

<g id="colorbar">
<rect x="378" y="795" width="201" height="7" fill="url(#cb)" stroke="#bbb" stroke-width="0.5"/>
<text class="cbt" x="379" y="811">0</text>
<text class="cbl" x="478" y="811">proportion of samples with PAMs</text>
<text class="cbt" x="568" y="811">0.1</text>
</g>
</svg>
